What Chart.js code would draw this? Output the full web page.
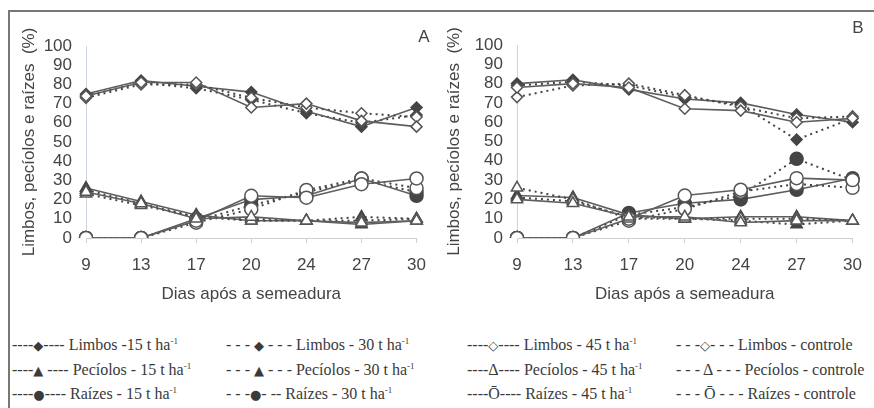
<!DOCTYPE html>
<html>
<head>
<meta charset="utf-8">
<script src="https://cdn.jsdelivr.net/npm/chart.js@4"></script>
<style>
  body { margin: 0; width: 874px; height: 408px; background: #fff; position: relative; overflow: hidden; font-family: "Liberation Sans", Arial, sans-serif; }
  .frame { position: absolute; left: 8px; top: 10px; width: 870px; height: 410px; border-top: 2px solid #777; border-left: 2px solid #777; }
  .panel { position: absolute; top: 12px; height: 296px; }
  .tag { position: absolute; font-size: 17px; color: #444; transform: translate(-50%, -50%); }
  .legend { position: absolute; font-family: 'Liberation Serif', serif; font-size: 16px; color: #3a3a3a; white-space: nowrap; transform: translateY(-50%); }
  .legend sup { font-size: 9px; }
  .legend .m { font-family: 'DejaVu Sans', sans-serif; font-size: 13px; }
</style>
</head>
<body>
<div class="frame"></div>
<div class="panel" style="left:9px;width:429px"><canvas id="chartA"></canvas></div>
<div class="panel" style="left:438px;width:436px"><canvas id="chartB"></canvas></div>
<div class="tag" style="left:424px;top:37px">A</div>
<div class="tag" style="left:858px;top:28px">B</div>
<div id="legend"></div>
<script>
// dias após a semeadura
const dias = ['9', '13', '17', '20', '24', '27', '30'];

// Painel A
const aLimbos15 = [75, 82, 79, 76, 66, 58, 68];
const aLimbos30 = [74, 81, 78, 72, 65, 60, 64];
const aLimbos45 = [74, 81, 81, 68, 70, 61, 58];
const aLimbosCtrl = [73, 80, 80, 73, 68, 65, 63];
const aPeciolos15 = [26, 19, 12, 9, 9, 7, 9];
const aPeciolos30 = [25, 18, 11, 10, 9, 11, 10];
const aPeciolos45 = [24, 18, 10, 11, 9, 8, 9];
const aPeciolosCtrl = [23, 17, 11, 9, 9, 9, 10];
const aRaizes15 = [0, 0, 10, 20, 22, 31, 22];
const aRaizes30 = [0, 0, 9, 17, 24, 30, 24];
const aRaizes45 = [0, 0, 9, 22, 21, 28, 31];
const aRaizesCtrl = [0, 0, 8, 15, 25, 31, 26];

// Painel B
const bLimbos15 = [80, 82, 77, 72, 70, 64, 60];
const bLimbos30 = [79, 81, 79, 73, 69, 51, 62];
const bLimbos45 = [78, 80, 78, 67, 66, 60, 62];
const bLimbosCtrl = [73, 79, 80, 74, 68, 62, 63];
const bPeciolos15 = [22, 21, 12, 10, 11, 11, 9];
const bPeciolos30 = [21, 19, 11, 10, 9, 7, 9];
const bPeciolos45 = [20, 18, 11, 11, 8, 9, 9];
const bPeciolosCtrl = [26, 20, 10, 10, 10, 10, 9];
const bRaizes15 = [0, 0, 13, 18, 20, 25, 31];
const bRaizes30 = [0, 0, 12, 16, 22, 41, 30];
const bRaizes45 = [0, 0, 10, 22, 25, 31, 30];
const bRaizesCtrl = [0, 0, 9, 15, 24, 28, 26];

const marcador = { Limbos: 'rectRot', 'Pecíolos': 'triangle', 'Raízes': 'circle' };
const raio = { Limbos: 5.5, 'Pecíolos': 6.5, 'Raízes': 6.5 };

function serie(grupo, trat, valores) {
  const cheio = trat === '15' || trat === '30';
  const pontilhado = trat === '30' || trat === 'controle';
  return {
    label: grupo + ' - ' + trat,
    data: valores,
    pointStyle: marcador[grupo],
    pointRadius: raio[grupo],
    pointBackgroundColor: cheio ? '#454545' : '#ffffff',
    pointBorderColor: cheio ? '#454545' : '#555',
    pointBorderWidth: 1.5,
    borderColor: pontilhado ? '#444' : '#5e5e5e',
    borderWidth: pontilhado ? 2 : 1.6,
    borderDash: pontilhado ? [2, 4] : [],
    fill: false,
    tension: 0,
    order: cheio ? 2 : 1
  };
}

function desenha(id, d, yTitlePad, yWidth, padRight, padTop) {
  const ctx = document.getElementById(id).getContext('2d');
  new Chart(ctx, {
    type: 'line',
    data: {
      labels: dias,
      datasets: [
        serie('Limbos', '15', d[0]), serie('Limbos', '30', d[1]), serie('Limbos', '45', d[2]), serie('Limbos', 'controle', d[3]),
        serie('Pecíolos', '15', d[4]), serie('Pecíolos', '30', d[5]), serie('Pecíolos', '45', d[6]), serie('Pecíolos', 'controle', d[7]),
        serie('Raízes', '15', d[8]), serie('Raízes', '30', d[9]), serie('Raízes', '45', d[10]), serie('Raízes', 'controle', d[11])
      ]
    },
    options: {
      responsive: true,
      maintainAspectRatio: false,
      animation: false,
      layout: { padding: { left: 0, right: padRight, top: padTop, bottom: 3 } },
      plugins: { legend: { display: false }, tooltip: { enabled: false } },
      scales: {
        x: {
          grid: { drawOnChartArea: false, drawTicks: true, tickLength: 5, color: '#cfcfcf' },
          border: { color: '#cfcfcf' },
          ticks: { color: '#444', font: { size: 17 }, padding: 12, maxRotation: 0, autoSkip: false },
          title: { display: true, text: 'Dias após a semeadura', color: '#444', font: { size: 17 }, padding: { top: 0, bottom: 0 } },
          afterFit: s => { s.height = 67; }
        },
        y: {
          min: 0, max: 100,
          grid: { display: false, drawTicks: false },
          border: { color: '#cdd6de' },
          ticks: { stepSize: 10, color: '#444', font: { size: 17 }, padding: 14, autoSkip: false },
          title: { display: true, text: 'Limbos, pecíolos e raízes  (%)', color: '#444', font: { size: 17 }, padding: { top: yTitlePad, bottom: 0 } },
          afterFit: s => { s.width = yWidth; }
        }
      }
    }
  });
}

document.addEventListener('DOMContentLoaded', () => {
  desenha('chartA', [aLimbos15, aLimbos30, aLimbos45, aLimbosCtrl, aPeciolos15, aPeciolos30, aPeciolos45, aPeciolosCtrl, aRaizes15, aRaizes30, aRaizes45, aRaizesCtrl], 10, 77, 0, 34);
  desenha('chartB', [bLimbos15, bLimbos30, bLimbos45, bLimbosCtrl, bPeciolos15, bPeciolos30, bPeciolos45, bPeciolosCtrl, bRaizes15, bRaizes30, bRaizes45, bRaizesCtrl], 6, 79, 12, 33);

  // legenda em texto
  const cols = [12, 226, 467, 676];
  const rows = [345, 370, 394];
  const itens = [
    ['----<span class="m">◆</span>---- Limbos -15 t ha<sup>-1</sup>', '----<span class="m">▲</span> ---- Pecíolos - 15 t ha<sup>-1</sup>', '----<span class="m">●</span>---- Raízes - 15 t ha<sup>-1</sup>'],
    ['- - - <span class="m">◆</span> - - - Limbos - 30 t ha<sup>-1</sup>', '- - - <span class="m">▲</span> - - - Pecíolos - 30 t ha<sup>-1</sup>', '- - -<span class="m">●</span>- -- Raízes - 30 t ha<sup>-1</sup>'],
    ['----<span class="m">◇</span>---- Limbos - 45 t ha<sup>-1</sup>', '----Δ---- Pecíolos - 45 t ha<sup>-1</sup>', '----Ō---- Raízes - 45 t ha<sup>-1</sup>'],
    ['- - -<span class="m">◇</span>- - - Limbos  - controle', '- - - Δ - - - Pecíolos - controle', '- - - Ō - - - Raízes - controle']
  ];
  let html = '';
  itens.forEach((col, i) => col.forEach((txt, j) => {
    html += `<div class="legend" style="left:${cols[i]}px;top:${rows[j]}px">${txt}</div>`;
  }));
  document.getElementById('legend').innerHTML = html;
});
</script>
</body>
</html>
